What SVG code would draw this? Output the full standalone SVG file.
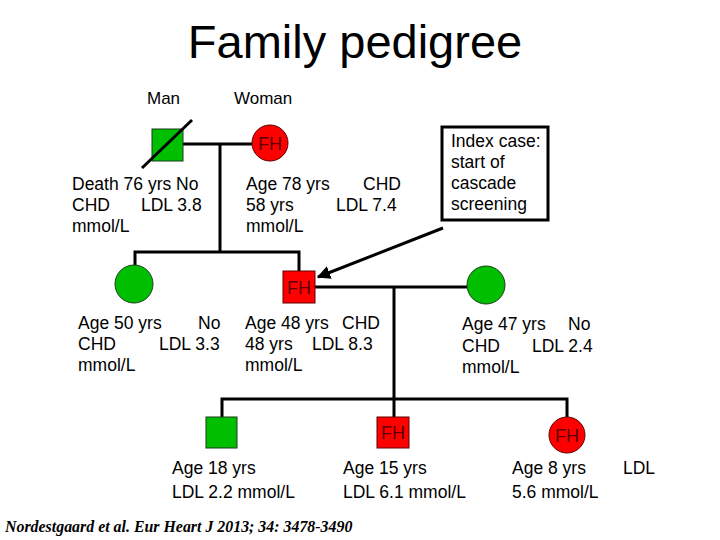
<svg xmlns="http://www.w3.org/2000/svg" width="720" height="540" viewBox="0 0 720 540">
<style>
text{font-family:"Liberation Sans",Arial,sans-serif;fill:#000}
text.cite{font-family:"Liberation Serif","Times New Roman",serif;font-size:15.9px;font-weight:bold;font-style:italic}
.lbl{font-size:17.5px}
.fh{font-size:18px;fill:#5a0000;text-anchor:middle}
.ln{stroke:#000;stroke-width:3;fill:none}
.g{fill:#00bf00;stroke:#1a3a1a;stroke-width:1}
.r{fill:#ff0000;stroke:#600000;stroke-width:1}
</style>
<defs>
<marker id="ah" viewBox="0 0 10 10" refX="9" refY="5" markerWidth="4.5" markerHeight="4.5" orient="auto" markerUnits="strokeWidth">
<path d="M0,0 L10,5 L0,10 z" fill="#000"/>
</marker>
</defs>
<rect width="720" height="540" fill="#fff"/>
<text x="355" y="58" font-size="47" text-anchor="middle">Family pedigree</text>
<text x="147" y="104" font-size="17">Man</text>
<text x="234" y="104" font-size="17">Woman</text>

<g id="connectors">
<path class="ln" d="M183,144 H252"/>
<path class="ln" d="M220,144 V252"/>
<path class="ln" d="M135,265 V252 H299 V271"/>
<path class="ln" d="M315,287 H467"/>
<path class="ln" d="M394,287 V417"/>
<path class="ln" d="M222,417 V399 H567 V417"/>
<line class="ln" x1="443" y1="228" x2="318" y2="277" marker-end="url(#ah)"/>
</g>

<g id="man">
<rect class="g" x="152" y="129" width="31" height="32"/>
<line x1="142" y1="168" x2="192" y2="120" stroke="#000" stroke-width="3"/>
<text class="lbl" x="72" y="190">Death 76 yrs No</text>
<text class="lbl" x="72" y="211">CHD</text>
<text class="lbl" x="141" y="211">LDL 3.8</text>
<text class="lbl" x="72" y="232">mmol/L</text>
</g>

<g id="woman">
<circle class="r" cx="270" cy="143" r="18"/>
<text class="fh" x="270" y="149.5">FH</text>
<text class="lbl" x="246" y="190">Age 78 yrs</text>
<text class="lbl" x="363" y="190">CHD</text>
<text class="lbl" x="246" y="211">58 yrs</text>
<text class="lbl" x="336" y="211">LDL 7.4</text>
<text class="lbl" x="246" y="232">mmol/L</text>
</g>

<g id="index-note">
<rect x="442" y="127" width="106" height="93" fill="#fff" stroke="#000" stroke-width="3"/>
<text class="lbl" x="451" y="147">Index case:</text>
<text class="lbl" x="451" y="168">start of</text>
<text class="lbl" x="451" y="189">cascade</text>
<text class="lbl" x="451" y="210">screening</text>
</g>

<g id="daughter">
<circle class="g" cx="134" cy="284" r="19"/>
<text class="lbl" x="78" y="329">Age 50 yrs</text>
<text class="lbl" x="198" y="329">No</text>
<text class="lbl" x="78" y="350">CHD</text>
<text class="lbl" x="159" y="350">LDL 3.3</text>
<text class="lbl" x="78" y="371">mmol/L</text>
</g>

<g id="index">
<rect class="r" x="283" y="271" width="32" height="32"/>
<text class="fh" x="299" y="293.5">FH</text>
<text class="lbl" x="245" y="329">Age 48 yrs</text>
<text class="lbl" x="342" y="329">CHD</text>
<text class="lbl" x="245" y="350">48 yrs</text>
<text class="lbl" x="312" y="350">LDL 8.3</text>
<text class="lbl" x="245" y="371">mmol/L</text>
</g>

<g id="wife">
<circle class="g" cx="486" cy="285" r="19"/>
<text class="lbl" x="462" y="330">Age 47 yrs</text>
<text class="lbl" x="568" y="330">No</text>
<text class="lbl" x="462" y="352">CHD</text>
<text class="lbl" x="532" y="352">LDL 2.4</text>
<text class="lbl" x="462" y="373">mmol/L</text>
</g>

<g id="child1">
<rect class="g" x="206" y="417" width="31" height="31"/>
<text class="lbl" x="172" y="474">Age 18 yrs</text>
<text class="lbl" x="172" y="498">LDL 2.2 mmol/L</text>
</g>

<g id="child2">
<rect class="r" x="377" y="417" width="32" height="31"/>
<text class="fh" x="393" y="439">FH</text>
<text class="lbl" x="343" y="474">Age 15 yrs</text>
<text class="lbl" x="343" y="498">LDL 6.1 mmol/L</text>
</g>

<g id="child3">
<circle class="r" cx="567" cy="435" r="18"/>
<text class="fh" x="567" y="441.5">FH</text>
<text class="lbl" x="512" y="474">Age 8 yrs</text>
<text class="lbl" x="623" y="474">LDL</text>
<text class="lbl" x="512" y="498">5.6 mmol/L</text>
</g>

<text class="cite" x="5" y="532">Nordestgaard et al. Eur Heart J 2013; 34: 3478-3490</text>
</svg>
